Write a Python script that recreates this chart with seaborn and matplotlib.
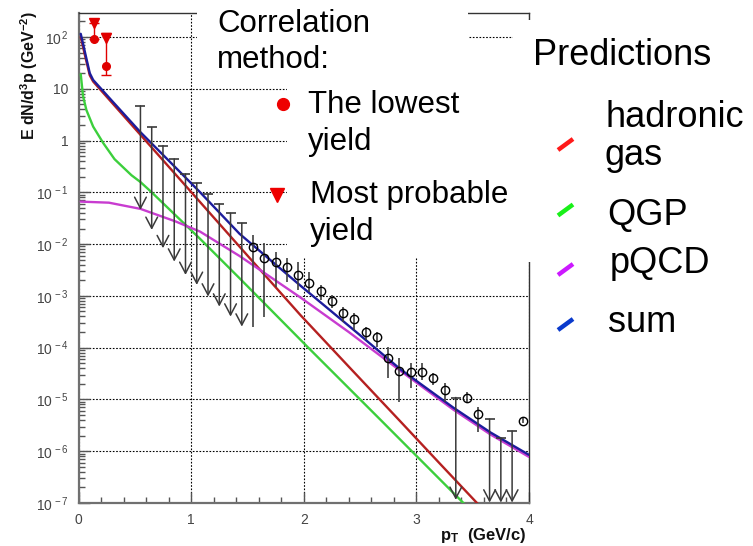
import numpy as np
import pandas as pd
import matplotlib
matplotlib.use("Agg")
import matplotlib.pyplot as plt
import seaborn as sns
from matplotlib.patches import Rectangle
from matplotlib.lines import Line2D
from matplotlib.ticker import FixedLocator, FuncFormatter, MultipleLocator, LogLocator, NullFormatter

# ---------------- data ----------------
# model curves (pT in GeV/c, E dN/d3p in GeV^-2)
had_pt = [0.02, 0.06, 0.10, 0.13, 0.55, 1.08, 1.52, 1.97, 2.41, 2.86, 3.20, 3.56]
had_y = [100, 41.7, 18.2, 13.8, 1.29, 0.0646, 5.37e-3, 4.27e-4, 4.07e-5, 3.72e-6, 6.03e-7, 8.9e-8]

qgp_pt = [0.02, 0.04, 0.07, 0.13, 0.22, 0.32, 0.47, 0.55, 0.65, 0.86, 1.08, 1.43, 2.04, 2.68, 3.45]
qgp_y = [19.1, 7.24, 3.89, 1.86, 0.891, 0.437, 0.214, 0.158, 0.100, 0.0363, 0.0126, 2.19e-3, 1.0e-4, 4.07e-6, 8.5e-8]

pqcd_pt = [0.02, 0.27, 0.55, 0.86, 1.08, 1.43, 1.97, 2.40, 2.86, 3.33, 3.66, 4.00]
pqcd_y = [0.0661, 0.0631, 0.0479, 0.0275, 0.0174, 5.89e-3, 9.33e-4, 2.0e-4, 3.55e-5, 6.31e-6, 2.09e-6, 7.76e-7]

sum_pt = [0.02, 0.06, 0.10, 0.13, 0.30, 0.55, 0.77, 1.08, 1.43, 1.97, 2.50, 2.86, 3.33, 3.66, 4.00]
sum_y = [115, 47.9, 20.0, 14.8, 5.75, 1.45, 0.479, 0.100, 0.0158, 1.58e-3, 1.74e-4, 3.8e-5, 6.9e-6, 2.29e-6, 8.5e-7]

# measured points with errors
data_pt = [1.55, 1.65, 1.75, 1.85, 1.95, 2.05, 2.15, 2.25, 2.35, 2.45, 2.55, 2.65, 2.75,
           2.85, 2.95, 3.05, 3.15, 3.25, 3.45, 3.55, 3.95]
data_y = [8.7e-3, 5.48e-3, 4.48e-3, 3.68e-3, 2.54e-3, 1.76e-3, 1.26e-3, 8.1e-4, 4.76e-4, 3.55e-4,
          2.05e-4, 1.64e-4, 6.4e-5, 3.61e-5, 3.46e-5, 3.46e-5, 2.65e-5, 1.49e-5, 1.09e-5, 5.2e-6, 3.9e-6]
data_hi = [0.0151, 0.01054, 7.16e-3, 5.42e-3, 4.59e-3, 2.88e-3, 1.63e-3, 1.05e-3, 6.2e-4, 4.7e-4,
           2.5e-4, 2.0e-4, 1.05e-4, 6.35e-5, 5.1e-5, 5.1e-5, 3.24e-5, 2.09e-5, 1.41e-5, 7.3e-6, 4.4e-6]
data_lo = [2.55e-4, 3.94e-4, 1.51e-3, 1.89e-3, 1.31e-3, 1.20e-3, 8.4e-4, 5.9e-4, 3.16e-4, 2.19e-4,
           1.41e-4, 1.05e-4, 2.58e-5, 9.1e-6, 1.67e-5, 2.4e-5, 1.9e-5, 9.1e-6, 8.9e-6, 2.4e-6, 3.5e-6]

# upper limits (arrows): value of the limit and end of arrow
lim_pt = [0.55, 0.65, 0.75, 0.85, 0.95, 1.05, 1.15, 1.25, 1.35, 1.45, 3.35, 3.65, 3.75, 3.85]
lim_top = [4.66, 1.79, 0.798, 0.442, 0.226, 0.150, 0.0918, 0.0597, 0.0394, 0.0253,
           1.09e-5, 4.17e-6, 1.78e-6, 2.45e-6]
lim_tip = [0.0457, 0.0188, 8.34e-3, 4.59e-3, 2.54e-3, 1.63e-3, 9.7e-4, 6.21e-4, 3.98e-4, 2.55e-4,
           1.15e-7, 1.02e-7, 1.02e-7, 1.02e-7]

# correlation method points
corr_pt = [0.14, 0.245]
corr_lowest = [91, 28]
corr_probable = [190, 97]
corr_err_lo = [91, 18.6]
corr_err_hi = [190, 121]

y_tick_exp = [-7, -6, -5, -4, -3, -2, -1, 0, 1, 2]
x_ticks = [0, 1, 2, 3, 4]

model_names = ["QGP", "hadronic gas", "pQCD", "sum"]
line_colors = {"QGP": "#3ccf3c", "hadronic gas": "#b52020", "pQCD": "#c83cd0", "sum": "#1c1c9c"}
legend_colors = ["#ff1a1a", "#19f019", "#cc19ff", "#0a3acc"]
legend_labels = [["hadronic", "gas"], ["QGP"], ["pQCD"], ["sum"]]

# ---------------- style ----------------
sns.set_theme(style="white")
plt.rcParams["font.family"] = ["Liberation Sans", "DejaVu Sans"]
plt.rcParams["mathtext.fontset"] = "custom"
plt.rcParams["mathtext.rm"] = "Liberation Sans"
plt.rcParams["mathtext.it"] = "Liberation Sans:italic"
plt.rcParams["mathtext.bf"] = "Liberation Sans:bold"

W, H = 753, 546
fig = plt.figure(figsize=(W / 100, H / 100), dpi=100)
fig.patch.set_facecolor("white")
ax = fig.add_axes([78.5 / W, 1 - 503 / H, (529 - 78.5) / W, (503 - 13) / H])

df = pd.concat([
    pd.DataFrame({"pT": had_pt, "yield": had_y, "model": "hadronic gas"}),
    pd.DataFrame({"pT": qgp_pt, "yield": qgp_y, "model": "QGP"}),
    pd.DataFrame({"pT": pqcd_pt, "yield": pqcd_y, "model": "pQCD"}),
    pd.DataFrame({"pT": sum_pt, "yield": sum_y, "model": "sum"}),
], ignore_index=True)

ax.set_yscale("log")
for name in model_names:
    sns.lineplot(data=df[df["model"] == name], x="pT", y="yield", color=line_colors[name],
                 sort=False, estimator=None, legend=False, lw=1.7, ax=ax, zorder=3)

# upper-limit arrows
arrow_c = "#3a3a3a"
for x, t, b in zip(lim_pt, lim_top, lim_tip):
    ax.annotate("", xy=(x, b), xytext=(x, t),
                arrowprops=dict(arrowstyle="->,head_length=0.8,head_width=0.42", color=arrow_c,
                                lw=1.1, shrinkA=0, shrinkB=0, mutation_scale=10),
                zorder=4, annotation_clip=False)
ax.plot(lim_pt, lim_top, ls="none", marker="_", ms=7.5, mew=1.2, color=arrow_c, zorder=4)

# data points
dy = np.array(data_y)
ax.errorbar(data_pt, data_y, yerr=[dy - np.array(data_lo), np.array(data_hi) - dy], fmt="none",
            ecolor="#404040", elinewidth=1.2, zorder=5)
ax.plot(data_pt, data_y, ls="none", marker="o", ms=6, mfc="none", mec="black", mew=1.0, zorder=6)

# correlation method points
cl = np.array(corr_lowest)
ax.errorbar(corr_pt, corr_lowest, yerr=[cl - np.array(corr_err_lo), np.array(corr_err_hi) - cl],
            fmt="o", color="#e00000", ms=5.5, capsize=3.5, elinewidth=1, capthick=1, zorder=6)
ax.plot(corr_pt, corr_probable, ls="none", marker="v", ms=6.5, color="#e00000", zorder=6)

ax.set_xlim(0, 4)
ax.set_ylim(1e-7, 10 ** 2.463)
ax.set_xlabel("")
ax.set_ylabel("")

ax.yaxis.set_major_locator(FixedLocator([10.0 ** e for e in y_tick_exp]))
ax.yaxis.set_minor_locator(LogLocator(base=10, subs=np.arange(2, 10), numticks=30))
ax.yaxis.set_minor_formatter(NullFormatter())


def yfmt(v, pos):
    e = int(round(np.log10(v)))
    if e == 0:
        return "1"
    if e == 1:
        return "10"
    return r"$\mathregular{10^{\,%d}}$" % e


ax.yaxis.set_major_formatter(FuncFormatter(yfmt))
ax.xaxis.set_major_locator(FixedLocator(x_ticks))
ax.xaxis.set_minor_locator(MultipleLocator(0.2))
ax.tick_params(axis="both", which="both", left=True, bottom=True, top=False, right=False)
ax.tick_params(axis="both", which="major", direction="in", length=8, width=1, color="#555555",
               labelsize=10, labelcolor="#444444", pad=7)
ax.tick_params(axis="both", which="minor", direction="in", length=4, width=1, color="#555555")

ax.grid(True, which="major", ls=(0, (1.5, 1.5)), color="black", lw=0.8)
ax.set_axisbelow(True)
for s in ["left", "bottom"]:
    ax.spines[s].set_color("#707070")
    ax.spines[s].set_linewidth(1.6)
for s in ["top", "right"]:
    ax.spines[s].set_color("#333333")
    ax.spines[s].set_linewidth(1.0)


def fx(px):
    return px / W


def fy(py):
    return 1 - py / H


# white boxes behind the pasted legend texts
for (x0, y0, x1, y1) in [(197, 0, 468, 76), (287, 45, 513, 257), (513, 20, 753, 262)]:
    fig.add_artist(Rectangle((fx(x0), fy(y1)), (x1 - x0) / W, (y1 - y0) / H, transform=fig.transFigure,
                             facecolor="white", edgecolor="none", zorder=10))

# axis titles
fig.text(fx(29), fy(76), r"E dN/d$^{\mathbf{3}}$p (GeV$^{\mathbf{-2}}$)", rotation=90, ha="center",
         va="center", fontsize=11.5, fontweight="bold", color="#111111", zorder=11)
fig.text(fx(440), fy(540), r"p$_{\mathbf{T}}$  (GeV/c)", ha="left", va="baseline", fontsize=12,
         fontweight="bold", color="#111111", zorder=11)

# left legend
tk = dict(ha="left", va="baseline", fontsize=22.5, color="black", zorder=11)
fig.text(fx(217), fy(31.7), "Correlation", **tk)
fig.text(fx(217), fy(68.3), "method:", **tk)
fig.text(fx(307.7), fy(113.3), "The lowest", **tk)
fig.text(fx(307.7), fy(150), "yield", **tk)
fig.text(fx(310), fy(203.3), "Most probable", **tk)
fig.text(fx(310), fy(240), "yield", **tk)
fig.add_artist(Line2D([fx(282.7)], [fy(104.3)], marker="o", ms=8.5, color="#ee0000", ls="none",
                      transform=fig.transFigure, zorder=11))
fig.add_artist(Line2D([fx(277.3)], [fy(195)], marker="v", ms=9.5, color="#ee0000", ls="none",
                      transform=fig.transFigure, zorder=11))

# right legend
tr = dict(ha="left", va="baseline", fontsize=26, color="black", zorder=11)
fig.text(fx(533.3), fy(65), "Predictions", **tr)
label_pos = [[(605, 126.7), (605, 165)], [(607.3, 225)], [(610, 273.3)], [(608.3, 331.7)]]
stroke_y = [144.5, 210, 269.5, 324.5]
for col, labs, poss, sy in zip(legend_colors, legend_labels, label_pos, stroke_y):
    for lab, (px, py) in zip(labs, poss):
        fig.text(fx(px), fy(py), lab, **tr)
    fig.add_artist(Line2D([fx(558), fx(573)], [fy(sy + 5.5), fy(sy - 5.5)], color=col, lw=3.2,
                          solid_capstyle="butt", transform=fig.transFigure, zorder=11))

fig.savefig("out.png", dpi=100, facecolor="white")
